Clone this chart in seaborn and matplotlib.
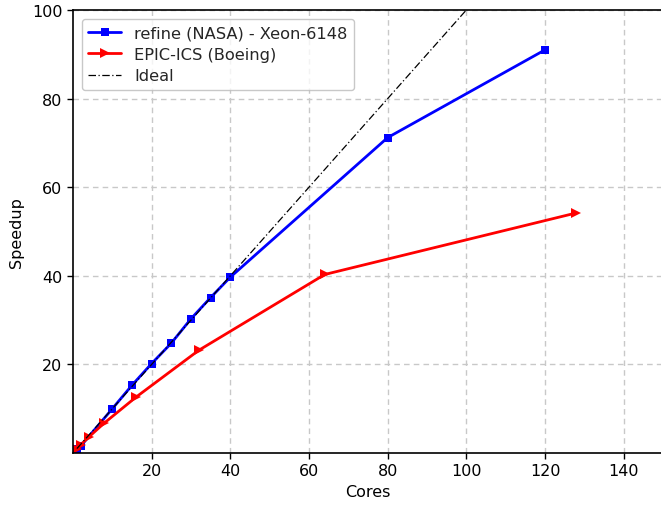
import matplotlib
matplotlib.use("Agg")
import matplotlib.pyplot as plt
import seaborn as sns
import pandas as pd

refine_cores = [1, 2, 10, 15, 20, 25, 30, 35, 40, 80, 120]
refine_speedup = [1.0, 1.6, 10.0, 15.3, 20.2, 24.8, 30.3, 35.1, 39.7, 71.2, 91.0]
epic_cores = [1, 2, 4, 8, 16, 32, 64, 128]
epic_speedup = [1.0, 1.9, 3.6, 6.8, 12.6, 23.2, 40.3, 54.2]
ideal_cores = [1, 150]
ideal_speedup = [1, 150]
xticks = [20, 40, 60, 80, 100, 120, 140]
yticks = [20, 40, 60, 80, 100]

sns.set_theme(style="white")
plt.rcParams['font.family'] = ['DejaVu Sans']

fig = plt.figure(figsize=(6.61, 5.06), dpi=100)
ax = fig.add_axes([73/661, 52/506, 590/661, 443/506])

df_r = pd.DataFrame({"Cores": refine_cores, "Speedup": refine_speedup})
df_e = pd.DataFrame({"Cores": epic_cores, "Speedup": epic_speedup})
df_i = pd.DataFrame({"Cores": ideal_cores, "Speedup": ideal_speedup})

sns.lineplot(data=df_r, x="Cores", y="Speedup", ax=ax, color="#0000ff", lw=2,
             marker="s", markersize=6, markeredgewidth=0, label="refine (NASA) - Xeon-6148")
sns.lineplot(data=df_e, x="Cores", y="Speedup", ax=ax, color="#ff0000", lw=2,
             marker=">", markersize=7, markeredgewidth=0, label="EPIC-ICS (Boeing)")
sns.lineplot(data=df_i, x="Cores", y="Speedup", ax=ax, color="black", lw=0.9,
             linestyle=(0, (6, 2, 1, 2)), label="Ideal")

ax.set_xlim(0, 150)
ax.set_ylim(0, 100)
ax.set_xticks(xticks)
ax.set_yticks(yticks)
ax.grid(True, linestyle=(0, (4, 3)), color="#c8c8c8", lw=1)
ax.tick_params(axis="both", direction="out", length=4, width=1, labelsize=11.5,
               bottom=True, left=True, colors="black")
for s in ax.spines.values():
    s.set_color("black")
    s.set_linewidth(1.2)
ax.spines["right"].set_visible(False)
ax.set_xlabel("Cores", fontsize=11.5, color="black")
ax.set_ylabel("Speedup", fontsize=11.5, color="black", labelpad=6)
leg = ax.legend(loc="upper left", fontsize=11.7, frameon=True, handlelength=2.0,
                labelspacing=0.4, borderaxespad=0.55)
leg.get_frame().set_edgecolor("#bbbbbb")

fig.savefig("out.png", dpi=100)
